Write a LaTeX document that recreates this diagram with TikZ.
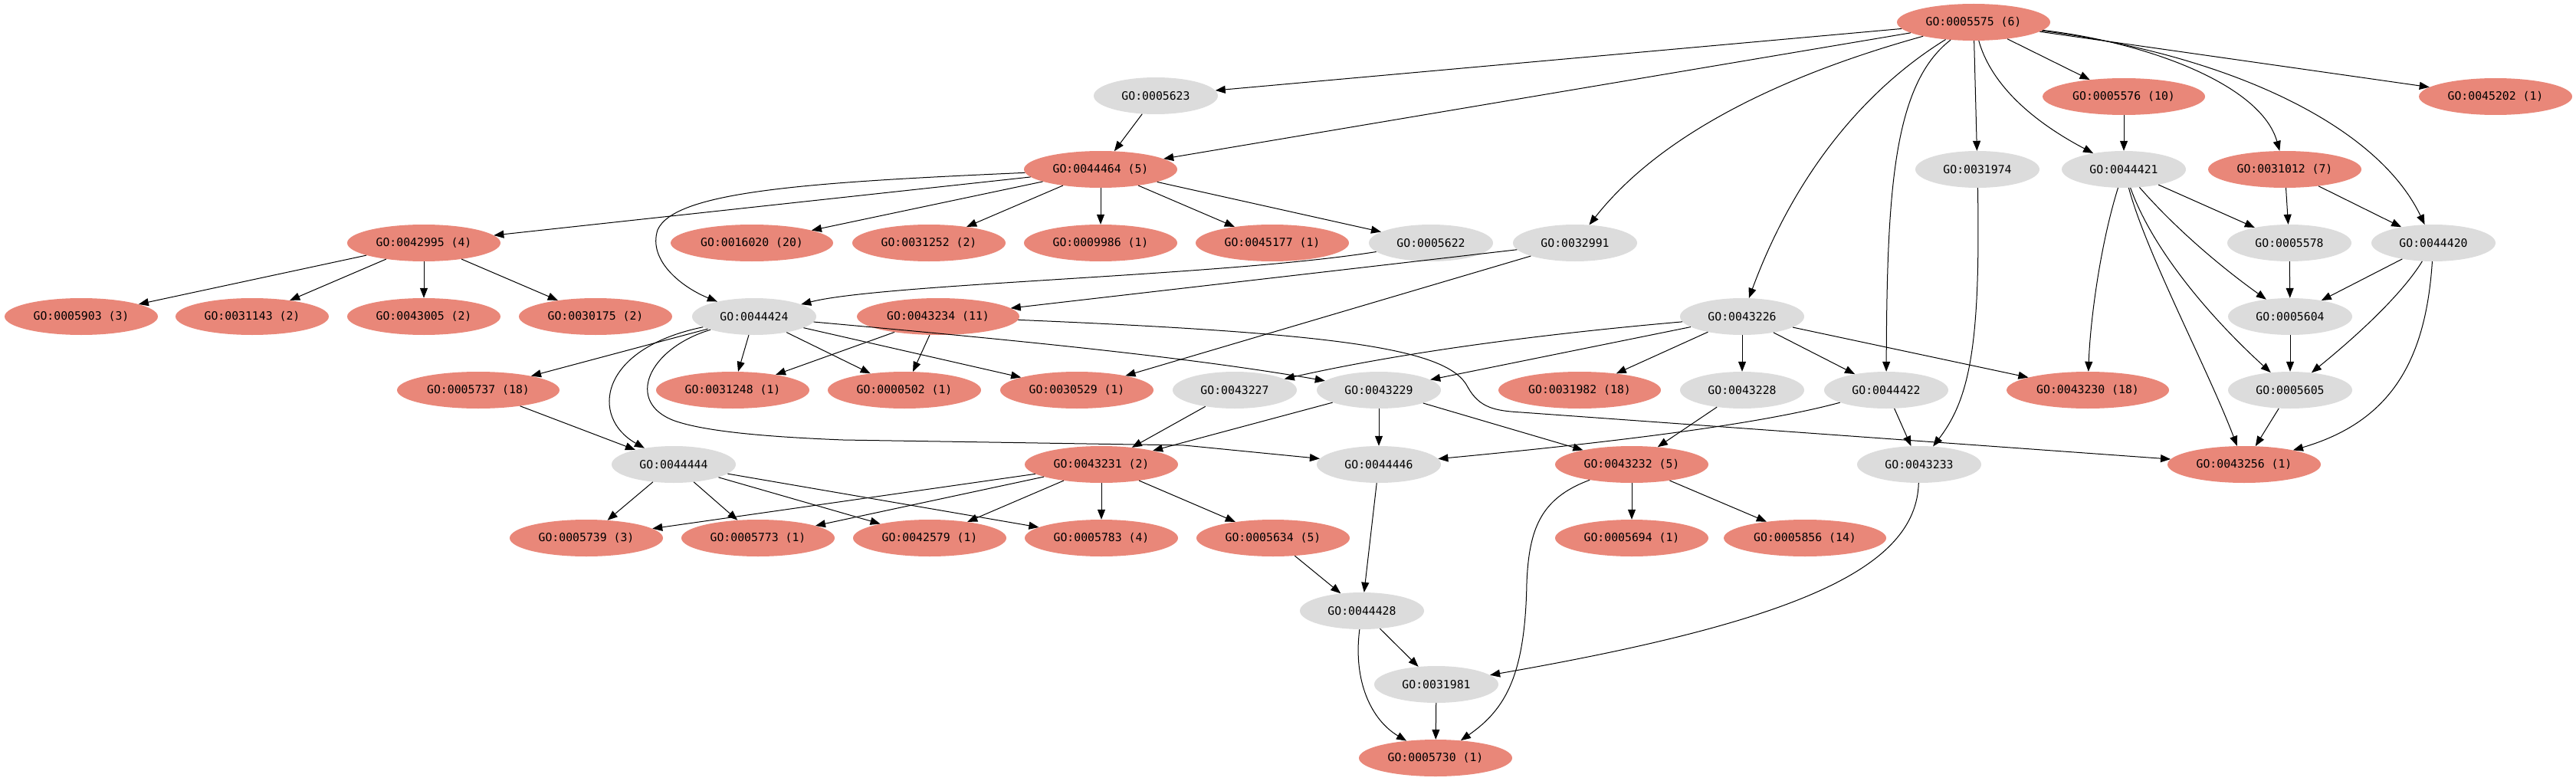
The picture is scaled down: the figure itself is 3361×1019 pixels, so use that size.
\documentclass[tikz,border=0pt]{standalone}
\usepackage{fontspec}
\setmonofont{DejaVu Sans Mono}
\usetikzlibrary{shapes.geometric,arrows.meta}
\definecolor{gored}{RGB}{233,135,121}
\definecolor{gogray}{RGB}{220,220,220}
\begin{document}
\begin{tikzpicture}[x=1pt,y=-1pt,
  gonode/.style={ellipse, inner sep=0pt, minimum height=48pt, text=black,
    font=\ttfamily\fontsize{14.8pt}{17pt}\selectfont},
  gg/.style={gonode, fill=gogray, minimum width=162pt},
  gr/.style={gonode, fill=gored, minimum width=200pt},
  grw/.style={gonode, fill=gored, minimum width=212pt},
  goedge/.style={-{Triangle[length=13pt,width=10pt]}, line width=1pt, black}]
\useasboundingbox (0,0) rectangle (3361,1019);
% row 0
\node[gr]  (n5575)  at (2575,29)  {GO:0005575 (6)};
% row 1
\node[gg]  (n5623)  at (1508,125) {GO:0005623};
\node[grw] (n5576)  at (2771,126) {GO:0005576 (10)};
\node[gr]  (n45202) at (3256,126) {GO:0045202 (1)};
% row 2
\node[gr]  (n44464) at (1436,221) {GO:0044464 (5)};
\node[gg]  (n31974) at (2580,221) {GO:0031974};
\node[gg]  (n44421) at (2771,221) {GO:0044421};
\node[gr]  (n31012) at (2981,221) {GO:0031012 (7)};
% row 3
\node[gr]  (n42995) at (553,317)  {GO:0042995 (4)};
\node[grw] (n16020) at (981,317)  {GO:0016020 (20)};
\node[gr]  (n31252) at (1212,317) {GO:0031252 (2)};
\node[gr]  (n9986)  at (1436,317) {GO:0009986 (1)};
\node[gr]  (n45177) at (1660,317) {GO:0045177 (1)};
\node[gg]  (n5622)  at (1867,317) {GO:0005622};
\node[gg]  (n32991) at (2055,317) {GO:0032991};
\node[gg]  (n5578)  at (2987,317) {GO:0005578};
\node[gg]  (n44420) at (3175,317) {GO:0044420};
% row 4
\node[gr]  (n5903)  at (106,413)  {GO:0005903 (3)};
\node[gr]  (n31143) at (329,413)  {GO:0031143 (2)};
\node[gr]  (n43005) at (553,413)  {GO:0043005 (2)};
\node[gr]  (n30175) at (777,413)  {GO:0030175 (2)};
\node[gg]  (n44424) at (984,413)  {GO:0044424};
\node[grw] (n43234) at (1224,413) {GO:0043234 (11)};
\node[gg]  (n43226) at (2273,413) {GO:0043226};
\node[gg]  (n5604)  at (2988,413) {GO:0005604};
% row 5
\node[grw] (n5737)  at (624,509)  {GO:0005737 (18)};
\node[gr]  (n31248) at (956,509)  {GO:0031248 (1)};
\node[gr]  (n502)   at (1180,509) {GO:0000502 (1)};
\node[gr]  (n30529) at (1405,509) {GO:0030529 (1)};
\node[gg]  (n43227) at (1611,509) {GO:0043227};
\node[gg]  (n43229) at (1799,509) {GO:0043229};
\node[grw] (n31982) at (2061,509) {GO:0031982 (18)};
\node[gg]  (n43228) at (2273,509) {GO:0043228};
\node[gg]  (n44422) at (2461,509) {GO:0044422};
\node[grw] (n43230) at (2724,509) {GO:0043230 (18)};
\node[gg]  (n5605)  at (2988,509) {GO:0005605};
% row 6
\node[gg]  (n44444) at (879,606)  {GO:0044444};
\node[gr]  (n43231) at (1437,606) {GO:0043231 (2)};
\node[gg]  (n44446) at (1799,606) {GO:0044446};
\node[gr]  (n43232) at (2129,606) {GO:0043232 (5)};
\node[gg]  (n43233) at (2504,606) {GO:0043233};
\node[gr]  (n43256) at (2928,606) {GO:0043256 (1)};
% row 7
\node[gr]  (n5739)  at (765,702)  {GO:0005739 (3)};
\node[gr]  (n5773)  at (989,702)  {GO:0005773 (1)};
\node[gr]  (n42579) at (1213,702) {GO:0042579 (1)};
\node[gr]  (n5783)  at (1437,702) {GO:0005783 (4)};
\node[gr]  (n5634)  at (1661,702) {GO:0005634 (5)};
\node[gr]  (n5694)  at (2129,702) {GO:0005694 (1)};
\node[grw] (n5856)  at (2355,702) {GO:0005856 (14)};
% rows 8-10
\node[gg]  (n44428) at (1777,797) {GO:0044428};
\node[gg]  (n31981) at (1874,893) {GO:0031981};
\node[gr]  (n5730)  at (1873,989) {GO:0005730 (1)};

% edges from GO:0005575
\draw[goedge] (n5575) -- (n5623);
\draw[goedge] (n5575) -- (n44464);
\draw[goedge] (n5575) .. controls (2308,103) and (2160,183) .. (n32991);
\draw[goedge] (n5575) .. controls (2431,118) and (2341,229) .. (n43226);
\draw[goedge] (n5575) .. controls (2470,110) and (2462,250) .. (n44422);
\draw[goedge] (n5575) -- (n31974);
\draw[goedge] (n5575) .. controls (2596,104) and (2642,153) .. (n44421);
\draw[goedge] (n5575) -- (n5576);
\draw[goedge] (n5575) .. controls (2800,55) and (2950,110) .. (n31012);
\draw[goedge] (n5575) .. controls (2900,70) and (3100,160) .. (n44420);
\draw[goedge] (n5575) -- (n45202);
% upper right
\draw[goedge] (n5623) -- (n44464);
\draw[goedge] (n5576) -- (n44421);
\draw[goedge] (n31974) .. controls (2584,450) and (2570,520) .. (n43233);
\draw[goedge] (n44421) -- (n5578);
\draw[goedge] (n44421) .. controls (2840,300) and (2900,350) .. (n5604);
\draw[goedge] (n44421) .. controls (2810,330) and (2890,420) .. (n5605);
\draw[goedge] (n44421) .. controls (2800,330) and (2880,480) .. (n43256);
\draw[goedge] (n44421) .. controls (2740,320) and (2727,420) .. (n43230);
\draw[goedge] (n31012) -- (n5578);
\draw[goedge] (n31012) -- (n44420);
\draw[goedge] (n5578) -- (n5604);
\draw[goedge] (n44420) -- (n5604);
\draw[goedge] (n44420) .. controls (3140,374) and (3096,421) .. (n5605);
\draw[goedge] (n44420) .. controls (3165,470) and (3120,550) .. (n43256);
\draw[goedge] (n5604) -- (n5605);
\draw[goedge] (n5605) -- (n43256);
% GO:0044464
\draw[goedge] (n44464) -- (n42995);
\draw[goedge] (n44464) .. controls (1050,238) and (880,250) .. (858,300)
   .. controls (845,340) and (890,375) .. (n44424);
\draw[goedge] (n44464) -- (n16020);
\draw[goedge] (n44464) -- (n31252);
\draw[goedge] (n44464) -- (n9986);
\draw[goedge] (n44464) -- (n45177);
\draw[goedge] (n44464) -- (n5622);
% GO:0042995
\draw[goedge] (n42995) -- (n5903);
\draw[goedge] (n42995) -- (n31143);
\draw[goedge] (n42995) -- (n43005);
\draw[goedge] (n42995) -- (n30175);
% GO:0005622, GO:0032991
\draw[goedge] (n5622) .. controls (1600,360) and (1150,370) .. (n44424);
\draw[goedge] (n32991) -- (n43234);
\draw[goedge] (n32991) -- (n30529);
% GO:0043234
\draw[goedge] (n43234) -- (n31248);
\draw[goedge] (n43234) -- (n502);
\draw[goedge] (n43234) .. controls (1750,435) and (1890,455) .. (1915,505)
   .. controls (1930,532) and (1950,536) .. (1985,538) -- (n43256);
% GO:0044424
\draw[goedge] (n44424) -- (n5737);
\draw[goedge] (n44424) .. controls (780,455) and (770,545) .. (n44444);
\draw[goedge] (n44424) .. controls (845,455) and (815,525) .. (880,549)
   .. controls (920,563) and (1000,570) .. (1100,574) -- (1545,581) -- (n44446);
\draw[goedge] (n44424) -- (n31248);
\draw[goedge] (n44424) -- (n502);
\draw[goedge] (n44424) -- (n30529);
\draw[goedge] (n44424) .. controls (1316,443) and (1545,465) .. (n43229);
% GO:0043226
\draw[goedge] (n43226) .. controls (1999,437) and (1824,461) .. (n43227);
\draw[goedge] (n43226) -- (n43229);
\draw[goedge] (n43226) -- (n31982);
\draw[goedge] (n43226) -- (n43228);
\draw[goedge] (n43226) -- (n44422);
\draw[goedge] (n43226) -- (n43230);
% row 5 sources
\draw[goedge] (n43227) -- (n43231);
\draw[goedge] (n43229) -- (n43231);
\draw[goedge] (n43229) -- (n44446);
\draw[goedge] (n43229) -- (n43232);
\draw[goedge] (n43228) -- (n43232);
\draw[goedge] (n44422) .. controls (2301,552) and (2126,575) .. (n44446);
\draw[goedge] (n44422) -- (n43233);
\draw[goedge] (n5737) -- (n44444);
% row 6 sources
\draw[goedge] (n44444) -- (n5739);
\draw[goedge] (n44444) -- (n5773);
\draw[goedge] (n44444) -- (n42579);
\draw[goedge] (n44444) -- (n5783);
\draw[goedge] (n43231) -- (n5739);
\draw[goedge] (n43231) -- (n5773);
\draw[goedge] (n43231) -- (n42579);
\draw[goedge] (n43231) -- (n5783);
\draw[goedge] (n43231) -- (n5634);
\draw[goedge] (n44446) -- (n44428);
\draw[goedge] (n43232) -- (n5694);
\draw[goedge] (n43232) -- (n5856);
\draw[goedge] (n43232) .. controls (2010,650) and (1995,690) .. (1992,760)
   .. controls (1990,880) and (1965,925) .. (n5730);
\draw[goedge] (n43233) .. controls (2500,740) and (2350,810) .. (n31981);
% bottom
\draw[goedge] (n5634) -- (n44428);
\draw[goedge] (n44428) -- (n31981);
\draw[goedge] (n44428) .. controls (1765,890) and (1790,940) .. (n5730);
\draw[goedge] (n31981) -- (n5730);
\end{tikzpicture}
\end{document}
